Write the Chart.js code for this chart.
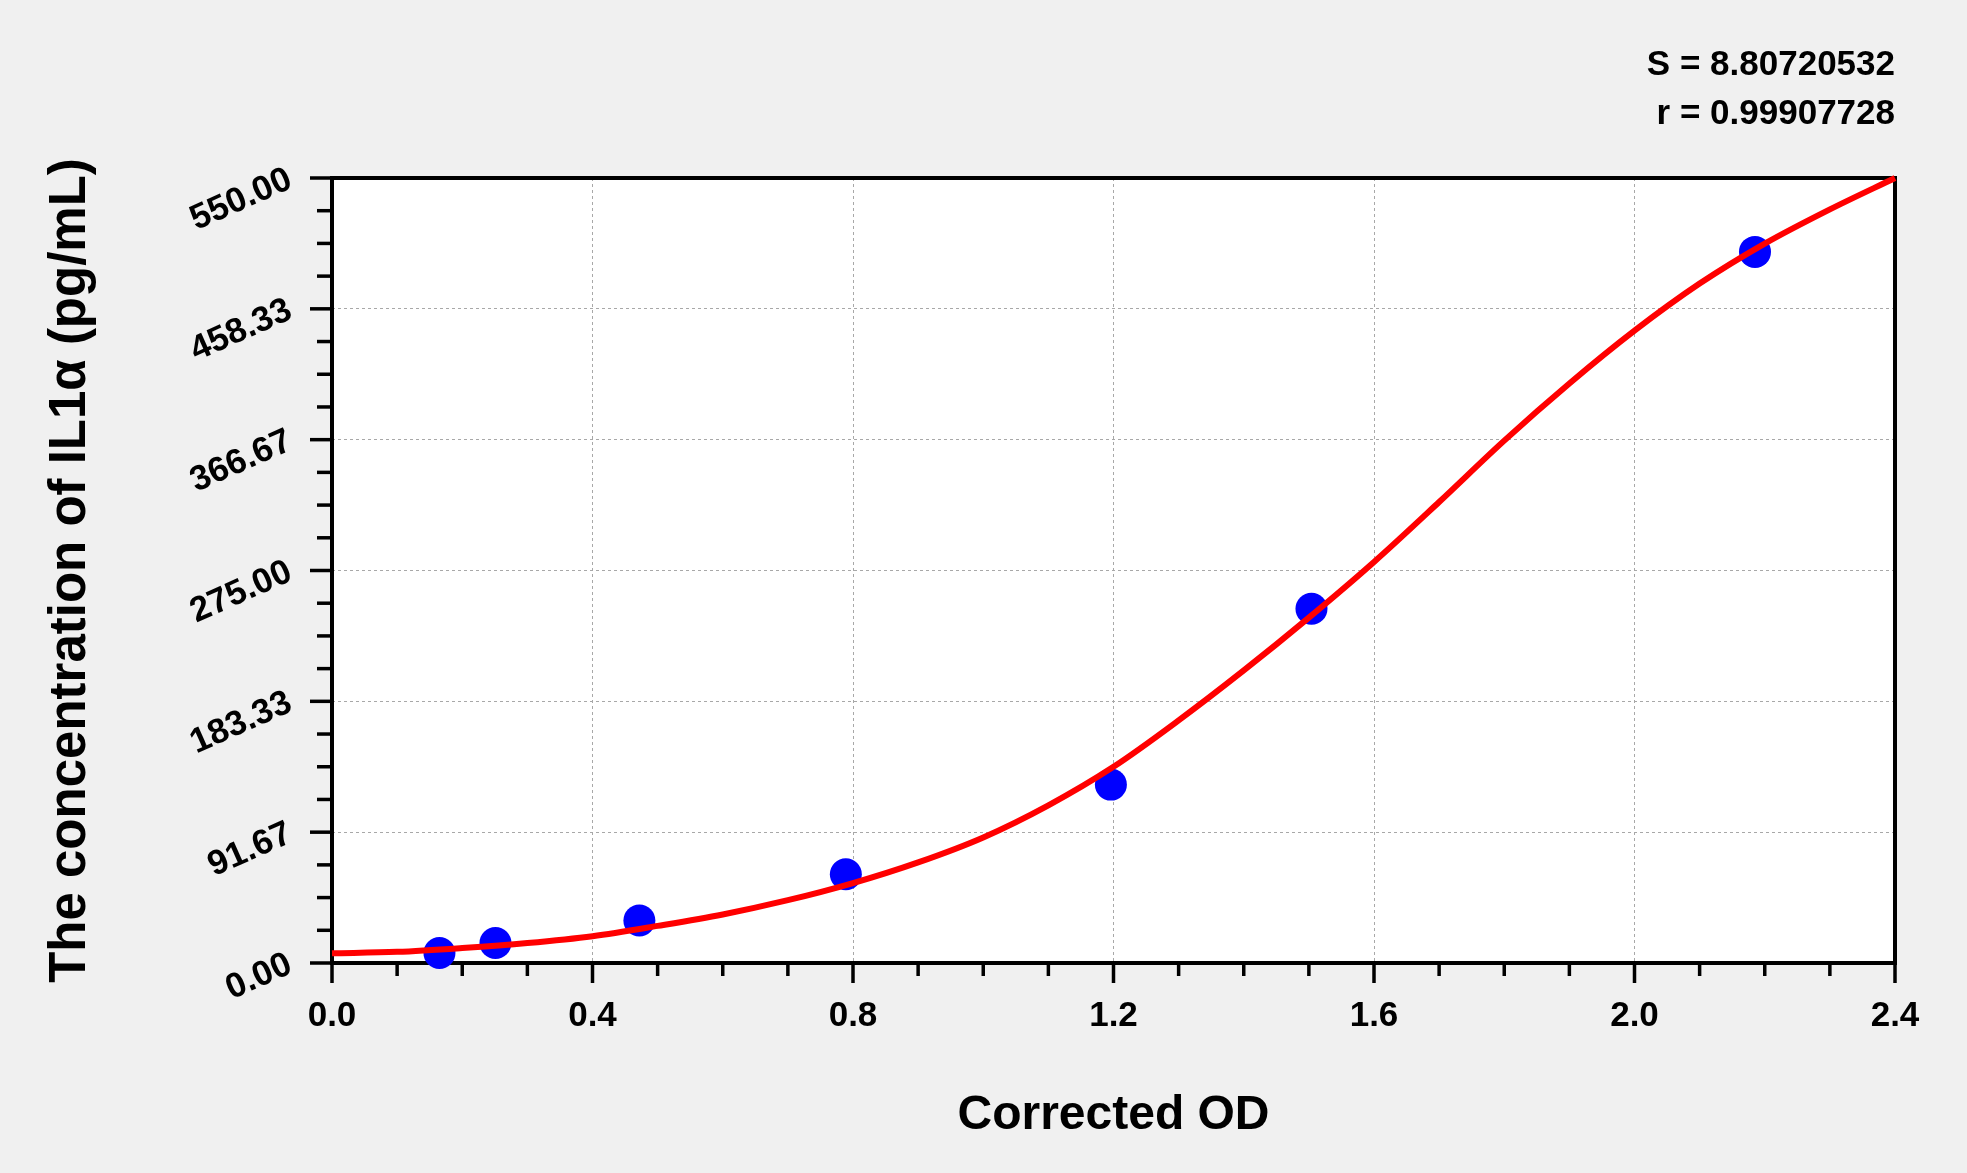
<!DOCTYPE html>
<html>
<head>
<meta charset="utf-8">
<script src="https://cdn.jsdelivr.net/npm/chart.js@4.4.1/dist/chart.umd.min.js"></script>
<style>
  html, body { margin: 0; padding: 0; background: #f0f0f0; overflow: hidden; }
  canvas { display: block; }
</style>
</head>
<body>
<canvas id="c" width="1967" height="1173" style="width:1967px;height:1173px"></canvas>
<script>
// ---- data ----
const standardOD = [0.165, 0.251, 0.472, 0.789, 1.196, 1.504, 2.185];
const standardConc = [7.0, 14.0, 29.8, 62.2, 125.0, 248.2, 498.2];

const curveOD = [0.0, 0.1, 0.2, 0.3, 0.4, 0.5, 0.6, 0.7, 0.8, 0.9, 1.0, 1.1, 1.2,
                 1.3, 1.4, 1.5, 1.6, 1.7, 1.8, 1.9, 2.0, 2.1, 2.2, 2.3, 2.4];
const curveConc = [6.8, 7.8, 10.5, 14.0, 18.8, 26.0, 34.0, 44.0, 56.0, 70.5, 88.0, 110.5, 137.5,
                   170.0, 205.0, 242.0, 281.0, 323.0, 366.0, 406.0, 443.0, 476.0, 504.0, 528.0, 550.0];

const xTickLabels = ['0.0', '0.4', '0.8', '1.2', '1.6', '2.0', '2.4'];
const yTickLabels = ['0.00', '91.67', '183.33', '275.00', '366.67', '458.33', '550.00'];
const statLines = ['S = 8.80720532', 'r = 0.99907728'];

const xMin = 0, xMax = 2.4, xMinorStep = 0.1;
const yMin = 0, yMax = 550, yMinorStep = 550 / 24;
const minorPerMajor = 4;

const FONT = "'Liberation Sans', Arial, sans-serif";

const curvePoints = curveOD.map((x, i) => ({x: x, y: curveConc[i]}));
const stdPoints = standardOD.map((x, i) => ({x: x, y: standardConc[i]}));

const bgPlugin = {
  id: 'bg',
  beforeDraw(chart) {
    const {ctx, chartArea: a} = chart;
    ctx.save();
    ctx.fillStyle = '#ffffff';
    ctx.fillRect(a.left, a.top, a.right - a.left, a.bottom - a.top);
    ctx.restore();
  }
};

const framePlugin = {
  id: 'frame',
  beforeDatasetsDraw(chart) {
    const {ctx, chartArea: a} = chart;
    const xs = chart.scales.x, ys = chart.scales.y;
    ctx.save();
    ctx.strokeStyle = '#000000';
    ctx.lineCap = 'butt';
    ctx.lineWidth = 3.5;
    ys.ticks.forEach((t, i) => {
      const p = ys.getPixelForValue(t.value);
      const len = (i % minorPerMajor === 0) ? 22 : 15;
      ctx.beginPath();
      ctx.moveTo(a.left - len, p);
      ctx.lineTo(a.left, p);
      ctx.stroke();
    });
    xs.ticks.forEach((t, i) => {
      const p = xs.getPixelForValue(t.value);
      const len = (i % minorPerMajor === 0) ? 20 : 13;
      ctx.beginPath();
      ctx.moveTo(p, a.bottom);
      ctx.lineTo(p, a.bottom + len);
      ctx.stroke();
    });
    ctx.lineWidth = 4;
    ctx.strokeRect(a.left, a.top, a.right - a.left, a.bottom - a.top);
    ctx.restore();
  }
};

new Chart(document.getElementById('c'), {
  type: 'scatter',
  data: {
    datasets: [
      {
        label: 'Fit',
        data: curvePoints,
        showLine: true,
        borderColor: '#ff0000',
        borderWidth: 6,
        pointRadius: 0,
        pointHoverRadius: 0,
        fill: false,
        cubicInterpolationMode: 'monotone',
        clip: false
      },
      {
        label: 'Standards',
        data: stdPoints,
        pointRadius: 16,
        pointHoverRadius: 16,
        backgroundColor: '#0000ff',
        borderWidth: 0,
        clip: false
      }
    ]
  },
  options: {
    responsive: false,
    animation: false,
    devicePixelRatio: 1,
    events: [],
    layout: { padding: { left: 0, right: 72, top: 0, bottom: 0 } },
    plugins: {
      legend: { display: false },
      tooltip: { enabled: false },
      title: {
        display: true,
        text: statLines,
        align: 'end',
        color: '#000000',
        font: { family: FONT, size: 35, weight: 'bold', lineHeight: '49px' },
        padding: { top: 41, bottom: 39 }
      }
    },
    scales: {
      x: {
        type: 'linear',
        min: xMin,
        max: xMax,
        afterFit(scale) { scale.height = 210; },
        border: { display: false, dash: [3, 3] },
        grid: {
          drawTicks: false,
          lineWidth: 1,
          color: (c) => (c.index % minorPerMajor === 0) ? '#a8a8a8' : 'rgba(0,0,0,0)'
        },
        ticks: {
          stepSize: xMinorStep,
          maxTicksLimit: 1000,
          autoSkip: false,
          maxRotation: 0,
          minRotation: 0,
          padding: 32,
          color: '#000000',
          font: { family: FONT, size: 35, weight: 'bold' },
          callback: (v, i) => (i % minorPerMajor === 0) ? xTickLabels[i / minorPerMajor] : ''
        },
        title: {
          display: true,
          text: 'Corrected OD',
          color: '#000000',
          font: { family: FONT, size: 48, weight: 'bold' },
          padding: { top: 0, bottom: 28 }
        }
      },
      y: {
        type: 'linear',
        min: yMin,
        max: yMax,
        afterFit(scale) { scale.width = 332; },
        border: { display: false, dash: [3, 3] },
        grid: {
          drawTicks: false,
          lineWidth: 1,
          color: (c) => (c.index % minorPerMajor === 0) ? '#a8a8a8' : 'rgba(0,0,0,0)'
        },
        ticks: {
          stepSize: yMinorStep,
          maxTicksLimit: 1000,
          autoSkip: false,
          minRotation: 24,
          maxRotation: 24,
          padding: 42,
          color: '#000000',
          font: { family: FONT, size: 35, weight: 'bold' },
          callback: (v, i) => (i % minorPerMajor === 0) ? yTickLabels[i / minorPerMajor] : ''
        },
        title: {
          display: true,
          text: 'The concentration of IL1α (pg/mL)',
          color: '#000000',
          font: { family: FONT, size: 51, weight: 'bold' },
          padding: { top: 40, bottom: 0 }
        }
      }
    }
  },
  plugins: [bgPlugin, framePlugin]
});
</script>
</body>
</html>
